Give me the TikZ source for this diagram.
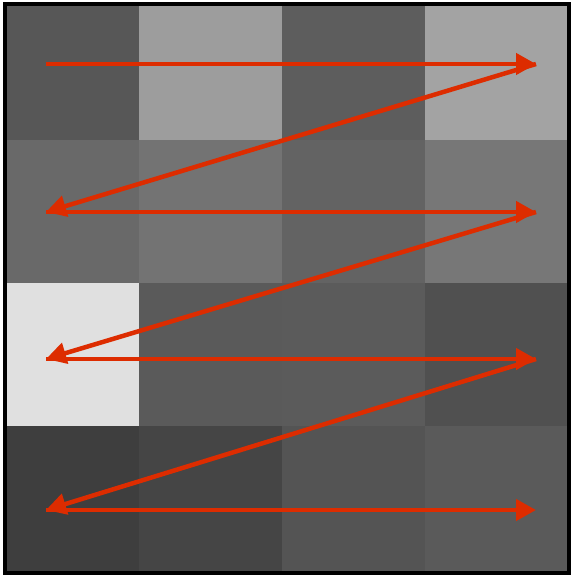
\documentclass[tikz,border=0pt]{standalone}
\usetikzlibrary{arrows.meta}
\definecolor{arrowred}{RGB}{221,44,0}
\definecolor{c11}{RGB}{87,87,87}
\definecolor{c12}{RGB}{157,157,157}
\definecolor{c13}{RGB}{93,93,93}
\definecolor{c14}{RGB}{163,163,163}
\definecolor{c21}{RGB}{105,105,105}
\definecolor{c22}{RGB}{115,115,115}
\definecolor{c23}{RGB}{99,99,99}
\definecolor{c24}{RGB}{119,119,119}
\definecolor{c31}{RGB}{224,224,224}
\definecolor{c32}{RGB}{90,90,90}
\definecolor{c33}{RGB}{91,91,91}
\definecolor{c34}{RGB}{80,80,80}
\definecolor{c41}{RGB}{62,62,62}
\definecolor{c42}{RGB}{69,69,69}
\definecolor{c43}{RGB}{84,84,84}
\definecolor{c44}{RGB}{90,90,90}
\tikzset{
  scan/.style={draw=arrowred, line width=4.5pt, -{Triangle[length=20pt,width=21pt]}},
  frame/.style={draw=black, line width=4pt}
}
\begin{document}
\begin{tikzpicture}[x=1pt,y=-1pt]
\useasboundingbox (0,0) rectangle (572,578);
% cells
\def\xa{7}\def\xb{139}\def\xc{282}\def\xd{425}\def\xe{567}
\def\ya{6}\def\yb{140}\def\yc{283}\def\yd{426}\def\ye{571}
\fill[c11] (\xa,\ya) rectangle (\xb,\yb);
\fill[c12] (\xb,\ya) rectangle (\xc,\yb);
\fill[c13] (\xc,\ya) rectangle (\xd,\yb);
\fill[c14] (\xd,\ya) rectangle (\xe,\yb);
\fill[c21] (\xa,\yb) rectangle (\xb,\yc);
\fill[c22] (\xb,\yb) rectangle (\xc,\yc);
\fill[c23] (\xc,\yb) rectangle (\xd,\yc);
\fill[c24] (\xd,\yb) rectangle (\xe,\yc);
\fill[c31] (\xa,\yc) rectangle (\xb,\yd);
\fill[c32] (\xb,\yc) rectangle (\xc,\yd);
\fill[c33] (\xc,\yc) rectangle (\xd,\yd);
\fill[c34] (\xd,\yc) rectangle (\xe,\yd);
\fill[c41] (\xa,\yd) rectangle (\xb,\ye);
\fill[c42] (\xb,\yd) rectangle (\xc,\ye);
\fill[c43] (\xc,\yd) rectangle (\xd,\ye);
\fill[c44] (\xd,\yd) rectangle (\xe,\ye);
% frame
\draw[frame] (5.3,4) rectangle (569,573);
% scan points
\coordinate (l1) at (46,64);  \coordinate (r1) at (536,64);
\coordinate (l2) at (46,212); \coordinate (r2) at (536,212);
\coordinate (l3) at (46,359); \coordinate (r3) at (536,359);
\coordinate (l4) at (46,510); \coordinate (r4) at (536,510);
% arrows
\draw[scan] (l1) -- (r1);
\draw[scan] (r1) -- (l2);
\draw[scan] (l2) -- (r2);
\draw[scan] (r2) -- (l3);
\draw[scan] (l3) -- (r3);
\draw[scan] (r3) -- (l4);
\draw[scan] (l4) -- (r4);
\end{tikzpicture}
\end{document}
